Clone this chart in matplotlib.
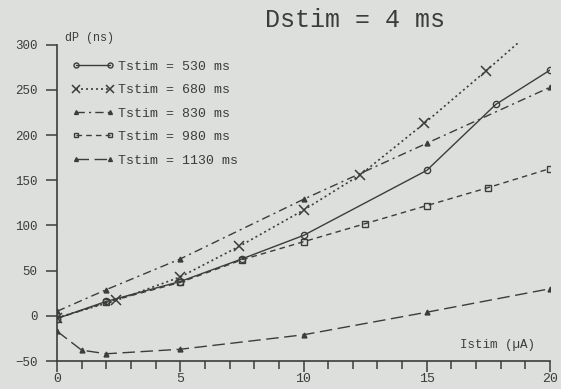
import numpy as np
import matplotlib
matplotlib.use("Agg")
import matplotlib.pyplot as plt

# values (Istim in uA, dP in ns)
x530 = [0, 2, 5, 7.5, 10, 15, 17.8, 20]
y530 = [-3, 16, 38, 63, 89, 161, 234, 272]

x680 = [0, 2.4, 5, 7.4, 10, 12.3, 14.9, 17.4, 20]
y680 = [-2, 17, 43, 77, 117, 156, 213, 271, 333]

x830 = [0, 2, 5, 10, 15, 20]
y830 = [5, 29, 63, 129, 191, 253]

x980 = [0, 2, 5, 7.5, 10, 12.5, 15, 17.5, 20]
y980 = [-3, 15, 37, 62, 82, 102, 122, 142, 163]

x1130 = [0, 1, 2, 5, 10, 15, 20]
y1130 = [-17, -38, -42, -37, -21, 4, 30]

labels = ['Tstim = 530 ms', 'Tstim = 680 ms', 'Tstim = 830 ms',
          'Tstim = 980 ms', 'Tstim = 1130 ms']

bg = '#dddfdd'
ink = '#3c3c3c'
plt.rcParams['font.family'] = ['Liberation Mono', 'DejaVu Sans Mono']

fig = plt.figure(figsize=(5.61, 3.89), dpi=100, facecolor=bg)
ax = fig.add_axes([57/561, 28/389, 493/561, 318/389], facecolor=bg)

ax.plot(x530, y530, color=ink, lw=1.0, ls='-', marker='o', ms=4.5,
        mfc='none', mew=1.0, label=labels[0])
ax.plot(x680, y680, color=ink, lw=1.2, dashes=(1.2, 1.8), marker='x', ms=7,
        mew=1.1, label=labels[1])
ax.plot(x830, y830, color=ink, lw=1.0, dashes=(6, 3, 1.5, 3), marker='^',
        ms=3.5, label=labels[2])
ax.plot(x980, y980, color=ink, lw=1.0, dashes=(4, 3), marker='s', ms=4,
        mfc='none', mew=1.0, label=labels[3])
ax.plot(x1130, y1130, color=ink, lw=1.0, dashes=(9, 4), marker='^', ms=3.5,
        label=labels[4])

ax.set_xlim(0, 20)
ax.set_ylim(-50, 302)
for s in ['top', 'right']:
    ax.spines[s].set_visible(False)
ax.spines['left'].set_bounds(-50, 300)
ax.spines['left'].set_color(ink)
ax.spines['bottom'].set_color(ink)
ax.spines['left'].set_linewidth(1.2)
ax.spines['bottom'].set_linewidth(1.2)

ax.set_xticks(np.arange(0, 21, 5))
ax.set_xticks(np.arange(0, 21, 1), minor=True)
ax.set_yticks(np.arange(-50, 301, 50))
ax.tick_params(axis='x', which='major', direction='out', length=8, width=1.1,
               color=ink, labelcolor=ink, labelsize=9.5, pad=1)
ax.tick_params(axis='x', which='minor', direction='out', length=6, width=1.1,
               color=ink)
ax.tick_params(axis='y', direction='out', length=8, width=1.1, color=ink,
               labelcolor=ink, labelsize=9, pad=6)

leg = ax.legend(loc='upper left', bbox_to_anchor=(0.03, 0.945), frameon=False,
                fontsize=9.5, handlelength=3.2, handletextpad=0.3,
                labelspacing=0.85, borderpad=0, borderaxespad=0, numpoints=2,
                markerscale=0.8)
for t in leg.get_texts():
    t.set_color(ink)

fig.text(355/561, 1 - 20/389, 'Dstim = 4 ms', ha='center', va='center',
         fontsize=18, color=ink)
fig.text(65/561, 1 - 38/389, 'dP (ns)', ha='left', va='center',
         fontsize=8.5, color=ink)
fig.text(497/561, 1 - 345/389, 'Istim (\u00b5A)', ha='center', va='center',
         fontsize=9, color=ink)

fig.savefig('out.png', dpi=100, facecolor=bg)
